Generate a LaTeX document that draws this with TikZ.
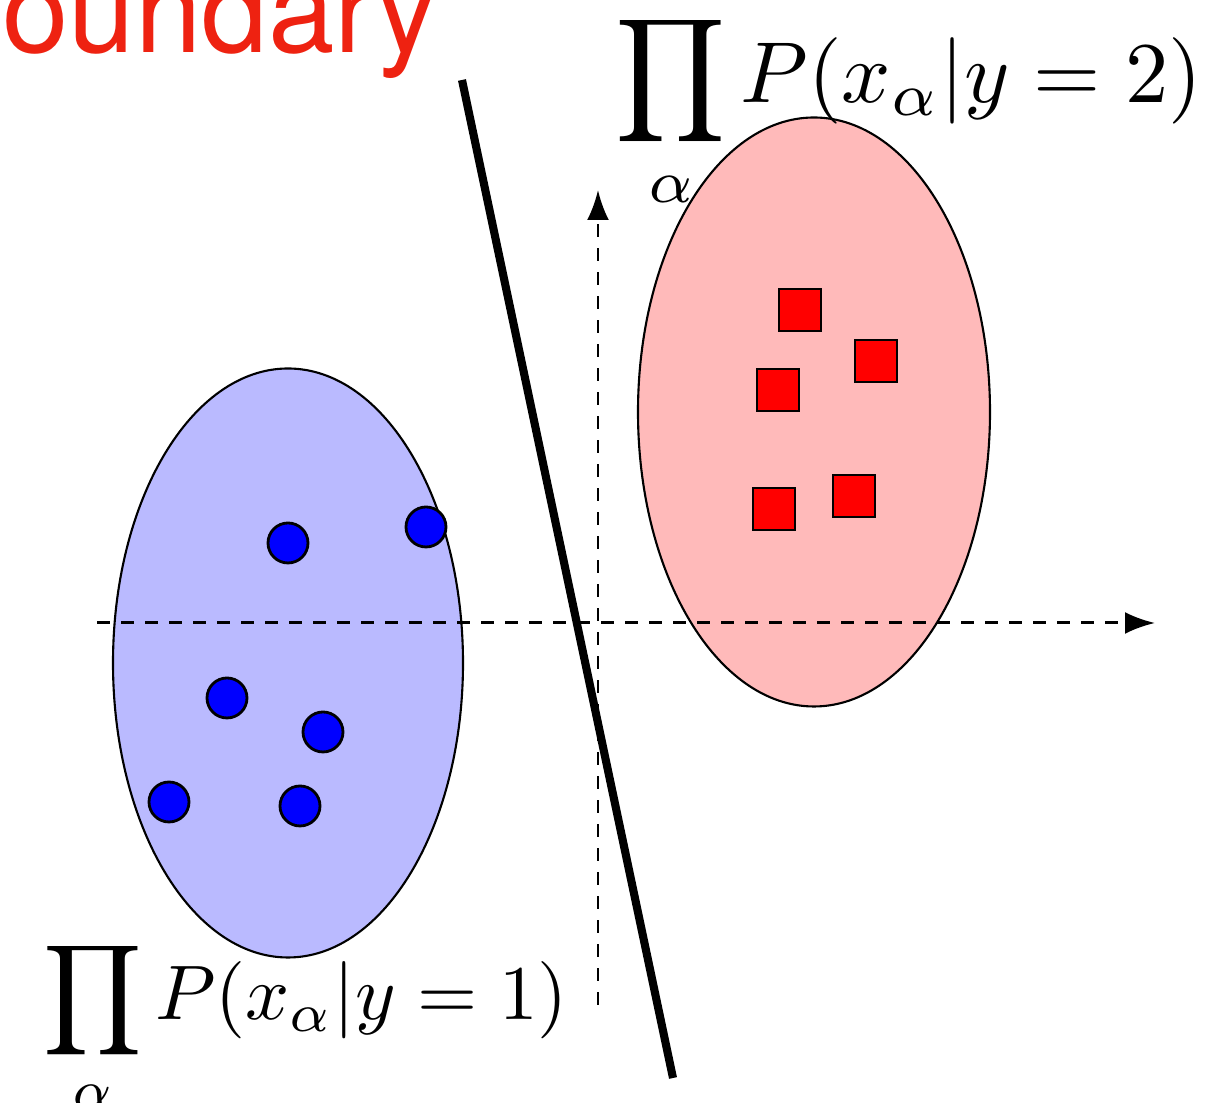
\documentclass[tikz,border=0pt]{standalone}
\usepackage{fontspec}
\newfontfamily\headfont{TeX Gyre Heros}
\definecolor{HeadRed}{RGB}{238,34,17}
\usetikzlibrary{positioning,shapes.geometric,arrows.meta}
\tikzset{>={Latex[length=3mm,width=2.2mm]}}
\tikzset{classone/.style={ellipse,draw,line width=0.6pt,fill=blue!27,minimum width=3.5cm,minimum height=5.89cm,inner sep=0pt}}
\tikzset{classtwo/.style={classone,fill=red!27,minimum width=3.52cm}}
\tikzset{bluedot/.style={circle,draw,line width=0.8pt,fill=blue,minimum size=0.4cm,inner sep=0pt}}
\tikzset{redbox/.style={rectangle,draw,line width=0.8pt,fill=red,minimum size=0.42cm,inner sep=0pt}}
\tikzset{myaxes/.style={line width=0.85pt,dash pattern=on 1.3mm off 1.1mm,->}}
\tikzset{myboundary/.style={line width=2.3pt}}
\tikzset{mylabels/.style={inner sep=0pt,anchor=base west,transform shape}}

\begin{document}
\begin{tikzpicture}
    \useasboundingbox (0,0) rectangle (12.29,11.03);
    \clip (0,0) rectangle (12.29,11.03);

    % the two classes
    \node[classone] (c1) at (2.88,4.40) {};
    \node[classtwo] (c2) at (8.14,6.91) {};

    % axes
    \coordinate (xl) at (0.97,4.80);
    \coordinate (xr) at (11.55,4.80);
    \coordinate (yb) at (5.98,0.98);
    \coordinate (yt) at (5.98,9.13);
    \draw[myaxes] (xl) -- (xr);
    \draw[myaxes] (yb) -- (yt);

    % decision boundary
    \coordinate (bt) at (4.62,10.23);
    \coordinate (bb) at (6.73,0.25);
    \draw[myboundary] (bt) -- (bb);

    \foreach \n/\x/\y in {
        d1/2.88/5.60,
        d2/4.26/5.76,
        d3/2.27/4.05,
        d4/3.23/3.71,
        d5/1.69/3.01,
        d6/3.00/2.97
    } {
        \node[bluedot] (\n) at (\x,\y) {};
    }
    \foreach \n/\x/\y in {
        s1/8.00/7.93,
        s2/8.76/7.42,
        s3/7.78/7.13,
        s4/8.54/6.07,
        s5/7.74/5.94
    } {
        \node[redbox] (\n) at (\x,\y) {};
    }

    \node[mylabels,scale=2.46] (p2) at (6.14,10.00) {$\displaystyle\prod_\alpha P(x_\alpha|y=2)$};
    \node[mylabels,scale=2.2] (p1) at (0.42,0.83) {$\displaystyle\prod_\alpha P(x_\alpha|y=1)$};
    \node[mylabels,scale=3.4,font=\headfont,text=HeadRed] (title) at (0.0,10.50) {oundary};
\end{tikzpicture}
\end{document}
